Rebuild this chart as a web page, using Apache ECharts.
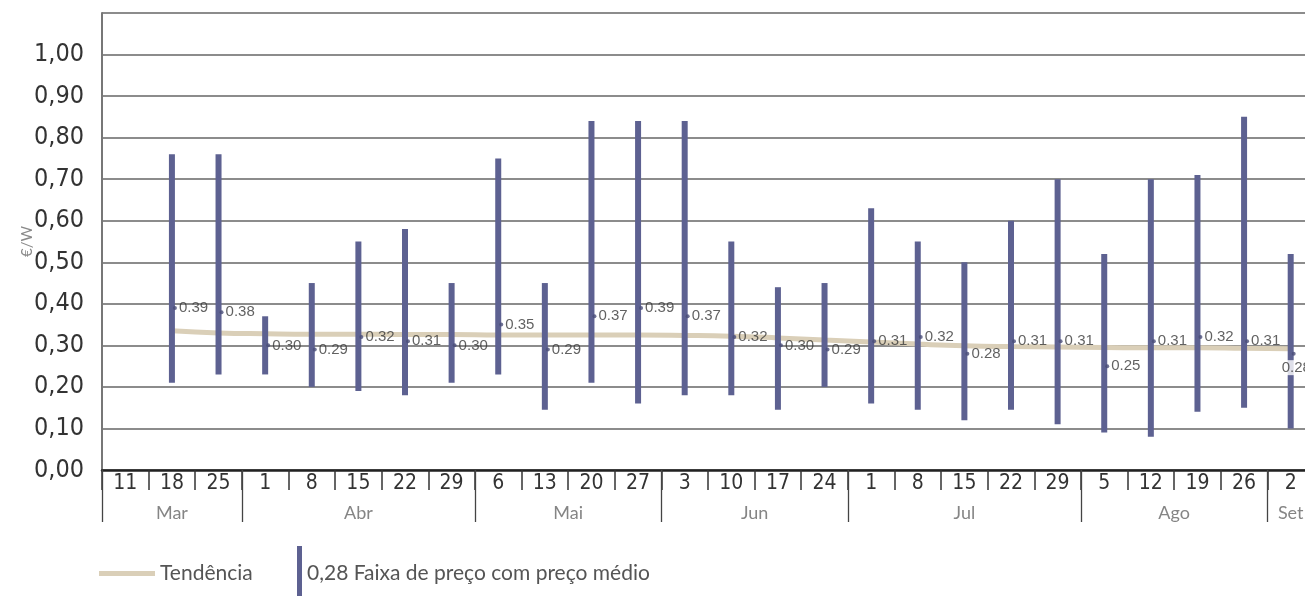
<!DOCTYPE html>
<html>
<head>
<meta charset="utf-8">
<script src="https://cdn.jsdelivr.net/npm/echarts@6/dist/echarts.min.js"></script>
<style>
  html, body { margin: 0; padding: 0; background: #fff; }
  #chart { width: 1305px; height: 596px; }
</style>
</head>
<body>
<div id="chart"></div>
<script>
// semanas (dia do mês)
var days = ["11","18","25","1","8","15","22","29","6","13","20","27","3","10","17","24","1","8","15","22","29","5","12","19","26","2"];
// meses: limites (em categorias) e centros dos rótulos
var monthNames = ["Mar","Abr","Mai","Jun","Jul","Ago","Set"];
var monthBounds = [0, 3, 8, 12, 16, 21, 25];
var monthCenters = [1.5, 5.5, 10, 14, 18.5, 23, 25.5];

// faixa de preço (mín / máx) e preço médio, a partir da semana 18 Mar
var priceLow  = [0.21,0.23,0.23,0.20,0.19,0.18,0.21,0.23,0.145,0.21,0.16,0.18,0.18,0.145,0.20,0.16,0.145,0.12,0.145,0.11,0.09,0.08,0.14,0.15,0.10];
var priceHigh = [0.76,0.76,0.37,0.45,0.55,0.58,0.45,0.75,0.45,0.84,0.84,0.84,0.55,0.44,0.45,0.63,0.55,0.50,0.60,0.70,0.52,0.70,0.71,0.85,0.52];
var priceAvg  = [0.39,0.38,0.30,0.29,0.32,0.31,0.30,0.35,0.29,0.37,0.39,0.37,0.32,0.30,0.29,0.31,0.32,0.28,0.31,0.31,0.25,0.31,0.32,0.31,0.28];
var trend     = [0.335,0.330,0.328,0.327,0.327,0.326,0.326,0.325,0.325,0.325,0.325,0.324,0.322,0.318,0.313,0.308,0.303,0.299,0.297,0.296,0.295,0.294,0.294,0.293,0.292];

var barColor = "#5d6191";
var trendColor = "#dacfb8";
var narrow = "'Liberation Sans Narrow', 'DejaVu Sans Condensed', sans-serif";

var rangeData = [], avgData = [], trendData = [];
priceLow.forEach(function (lo, i) {
    rangeData.push([i + 1, lo, priceHigh[i]]);
    trendData.push([i + 1, trend[i]]);
    var pt = { value: [i + 1, priceAvg[i]] };
    if (i === priceLow.length - 1) {
        pt.label = { offset: [-16, 14], backgroundColor: "#fff" };
    }
    avgData.push(pt);
});

var chart = echarts.init(document.getElementById("chart"));
chart.setOption({
    animation: false,
    grid: { left: 102, width: 1212, top: 13, bottom: 126, outerBoundsMode: "none", containLabel: false },
    xAxis: [{
        type: "category",
        data: days,
        boundaryGap: true,
        axisLine: { lineStyle: { color: "#222", width: 2.5 } },
        axisTick: { show: true, interval: 0, length: 20, lineStyle: { color: "#333", width: 1.5 } },
        axisLabel: { interval: 0, margin: 3, fontSize: 21, color: "#333", fontFamily: narrow }
    }, {
        type: "value",
        min: 0,
        max: 26,
        position: "bottom",
        axisLine: { show: false },
        splitLine: { show: false },
        axisTick: { show: true, customValues: monthBounds, length: 52, lineStyle: { color: "#444", width: 1.3 } },
        axisLabel: {
            customValues: monthCenters,
            margin: 34,
            fontSize: 18,
            color: "#858585",
            fontFamily: "Lato, 'Open Sans', sans-serif",
            formatter: function (v) {
                var k = monthCenters.indexOf(v);
                return k >= 0 ? monthNames[k] : "";
            }
        }
    }],
    yAxis: {
        type: "value",
        min: 0,
        max: 1.1,
        interval: 0.1,
        name: "€/W",
        nameLocation: "middle",
        nameRotate: 90,
        nameGap: 67,
        nameMoveOverlap: false,
        nameTextStyle: { fontSize: 15, color: "#8a8a8a", fontFamily: "Lato, sans-serif" },
        axisLine: { show: true, lineStyle: { color: "#777", width: 2 } },
        axisTick: { show: false },
        splitLine: { lineStyle: { color: "#666", width: 1.5 } },
        axisLabel: {
            margin: 18,
            fontSize: 25,
            color: "#333",
            fontFamily: narrow,
            formatter: function (v) {
                if (v > 1.05) return "";
                return v.toFixed(2).replace(".", ",");
            }
        }
    },
    series: [{
        name: "Tendência",
        type: "line",
        data: trendData,
        symbol: "none",
        smooth: true,
        lineStyle: { color: trendColor, width: 5 },
        z: 2
    }, {
        name: "Faixa de preço",
        type: "custom",
        data: rangeData,
        encode: { x: 0, y: [1, 2] },
        renderItem: function (params, api) {
            var lo = api.coord([api.value(0), api.value(1)]);
            var hi = api.coord([api.value(0), api.value(2)]);
            return {
                type: "rect",
                shape: { x: lo[0] - 3, y: hi[1], width: 6, height: lo[1] - hi[1] },
                style: { fill: barColor }
            };
        },
        z: 3
    }, {
        name: "Preço médio",
        type: "scatter",
        data: avgData,
        symbol: "circle",
        symbolSize: 4,
        symbolOffset: [3, 0],
        itemStyle: { color: "#4a4d78" },
        label: {
            show: true,
            position: "right",
            distance: 2,
            fontSize: 15,
            color: "#3a3a3a",
            fontFamily: "'Liberation Sans', Arial, sans-serif",
            formatter: function (p) { return p.value[1].toFixed(2); }
        },
        z: 4
    }],
    graphic: [
        { type: "rect", left: 99, top: 571, shape: { width: 56, height: 5 }, style: { fill: trendColor } },
        { type: "text", x: 160, y: 573, style: { text: "Tendência", fontSize: 21, fill: "#555", fontFamily: "Lato, sans-serif", verticalAlign: "middle" } },
        { type: "rect", left: 297, top: 546, shape: { width: 5, height: 50 }, style: { fill: barColor } },
        { type: "text", x: 307, y: 573, style: { text: "0,28 Faixa de preço com preço médio", fontSize: 21, fill: "#555", fontFamily: "Lato, sans-serif", verticalAlign: "middle" } }
    ]
});
</script>
</body>
</html>
